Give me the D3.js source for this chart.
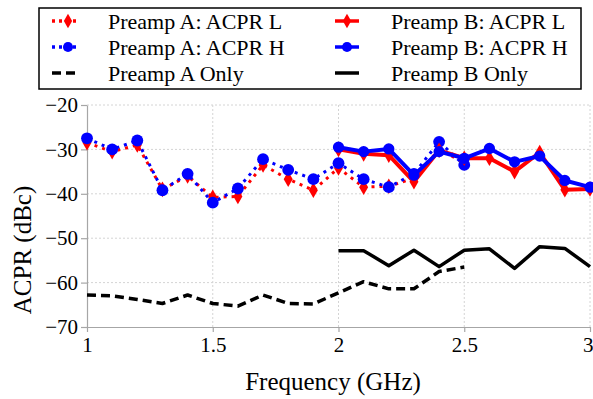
<!DOCTYPE html>
<html>
<head>
<meta charset="utf-8">
<script src="https://cdn.jsdelivr.net/npm/d3@7"></script>
<style>
  body { margin: 0; background: #fff; }
  svg text { font-family: 'Liberation Serif', 'Times New Roman', 'DejaVu Serif', serif; }
</style>
</head>
<body>
<div id="chart"></div>
<script>
const freqA = [1.0, 1.1, 1.2, 1.3, 1.4, 1.5, 1.6, 1.7, 1.8, 1.9, 2.0, 2.1, 2.2, 2.3, 2.4, 2.5];
const freqB = [2.0, 2.1, 2.2, 2.3, 2.4, 2.5, 2.6, 2.7, 2.8, 2.9, 3.0];

const aAcprL = [-28.5, -30.5, -29, -39, -36, -40.8, -40.6, -33.5, -36.7, -39.2, -34.2, -38.5, -38.3, -36.5, -30, -33];
const aAcprH = [-27.5, -30, -28, -39.2, -35.5, -42, -38.8, -32.2, -34.6, -36.7, -33.1, -36.7, -38.5, -35.5, -28.3, -33.5];
const bAcprL = [-30, -31, -31.3, -37.3, -30.2, -32, -32, -35, -30.7, -39.1, -38.9];
const bAcprH = [-29.5, -30.5, -29.9, -35.8, -30.5, -32, -29.8, -32.8, -31.5, -37, -38.5];
const aOnly = [-62.8, -63, -63.8, -64.7, -62.8, -64.7, -65.3, -62.8, -64.7, -64.8, -62.3, -59.8, -61.4, -61.4, -57.5, -56.5];
const bOnly = [-52.8, -52.8, -56.2, -52.7, -56.4, -52.7, -52.4, -56.8, -51.9, -52.3, -56.4];

const xTicks = [1, 1.5, 2, 2.5, 3];
const yTicks = [-70, -60, -50, -40, -30, -20];

const RED = '#ff0000';
const BLUE = '#0000ff';

const width = 593, height = 399;
const svg = d3.select('#chart').append('svg')
  .attr('width', width)
  .attr('height', height);

const x = d3.scaleLinear().domain([1, 3]).range([87, 590]);
const y = d3.scaleLinear().domain([-70, -20]).range([327, 105]);

// grid
svg.append('g')
  .selectAll('line')
  .data(yTicks.filter((d) => d > -70))
  .enter()
  .append('line')
  .attr('x1', x(1)).attr('x2', x(3))
  .attr('y1', (d) => y(d)).attr('y2', (d) => y(d))
  .attr('stroke', '#d4d4d4')
  .attr('stroke-dasharray', '2,2');

svg.append('g')
  .selectAll('line')
  .data(xTicks.filter((d) => d > 1))
  .enter()
  .append('line')
  .attr('x1', (d) => x(d)).attr('x2', (d) => x(d))
  .attr('y1', y(-20)).attr('y2', y(-70))
  .attr('stroke', '#d4d4d4')
  .attr('stroke-dasharray', '2,2');

// axes
const xAxis = svg.append('g')
  .attr('transform', `translate(0,${y(-70)})`)
  .call(d3.axisBottom(x).tickValues(xTicks).tickSize(5).tickSizeOuter(0).tickFormat(d3.format('')));
const yAxis = svg.append('g')
  .attr('transform', `translate(${x(1)},0)`)
  .call(d3.axisLeft(y).tickValues(yTicks).tickSize(6).tickSizeOuter(0));

[xAxis, yAxis].forEach((g) => {
  g.attr('font-family', null);
  g.select('.domain').attr('stroke', '#a6a6a6').attr('stroke-width', 1.2);
  g.selectAll('.tick line').attr('stroke', '#a6a6a6').attr('stroke-width', 1.2);
  g.selectAll('.tick text')
    .attr('fill', '#000')
    .style('font-size', '21px');
});
xAxis.selectAll('.tick text').attr('dy', '0.95em').attr('y', 5);
xAxis.selectAll('.tick text').filter((d) => d === 3).attr('text-anchor', 'end').attr('x', 3);
yAxis.selectAll('.tick text').attr('x', -9);

svg.append('text')
  .attr('x', 333).attr('y', 390)
  .attr('text-anchor', 'middle')
  .style('font-size', '25px')
  .text('Frequency (GHz)');

svg.append('text')
  .attr('transform', 'translate(31,250) rotate(-90)')
  .attr('text-anchor', 'middle')
  .style('font-size', '25px')
  .text('ACPR (dBc)');

// series
const line = (xs) => d3.line().x((d, i) => x(xs[i])).y((d) => y(d));

function drawSeries(xs, vals, opts) {
  svg.append('path')
    .datum(vals)
    .attr('d', line(xs))
    .attr('fill', 'none')
    .attr('stroke', opts.color)
    .attr('stroke-width', opts.width)
    .attr('stroke-dasharray', opts.dash || null)
    .attr('stroke-linejoin', 'round');
  if (opts.marker) {
    svg.append('g')
      .selectAll('path')
      .data(vals)
      .enter()
      .append('path')
      .attr('transform', (d, i) => `translate(${x(xs[i])},${y(d)})`)
      .attr('d', d3.symbol().type(opts.marker).size(opts.size))
      .attr('fill', opts.color);
  }
}

drawSeries(freqA, aOnly, { color: '#000', width: 3.5, dash: '9,5' });
drawSeries(freqB, bOnly, { color: '#000', width: 3.5 });
drawSeries(freqA, aAcprL, { color: RED, width: 3, dash: '3,5', marker: d3.symbolDiamond, size: 70 });
drawSeries(freqA, aAcprH, { color: BLUE, width: 3, dash: '3,5', marker: d3.symbolCircle, size: 110 });
drawSeries(freqB, bAcprL, { color: RED, width: 4, marker: d3.symbolDiamond, size: 70 });
drawSeries(freqB, bAcprH, { color: BLUE, width: 4, marker: d3.symbolCircle, size: 100 });

// legend
const legend = svg.append('g');
legend.append('rect')
  .attr('x', 39).attr('y', 8)
  .attr('width', 542).attr('height', 81)
  .attr('fill', '#fff')
  .attr('stroke', '#000')
  .attr('stroke-width', 1.5);

const legendItems = [
  { label: 'Preamp A: ACPR L', col: 0, row: 0, color: RED, dash: '3,4', marker: d3.symbolDiamond, size: 60 },
  { label: 'Preamp A: ACPR H', col: 0, row: 1, color: BLUE, dash: '3,4', marker: d3.symbolCircle, size: 80 },
  { label: 'Preamp A Only', col: 0, row: 2, color: '#000', dash: '9,5' },
  { label: 'Preamp B: ACPR L', col: 1, row: 0, color: RED, marker: d3.symbolDiamond, size: 60 },
  { label: 'Preamp B: ACPR H', col: 1, row: 1, color: BLUE, marker: d3.symbolCircle, size: 80 },
  { label: 'Preamp B Only', col: 1, row: 2, color: '#000' },
];
const colX = [52, 335];
const rowY = [21, 47, 73];

const item = legend.selectAll('g.item')
  .data(legendItems)
  .enter()
  .append('g')
  .attr('class', 'item')
  .attr('transform', (d) => `translate(${colX[d.col]},${rowY[d.row]})`);

item.append('line')
  .attr('x1', 0).attr('x2', 24)
  .attr('stroke', (d) => d.color)
  .attr('stroke-width', 3.5)
  .attr('stroke-dasharray', (d) => d.dash || null);

item.filter((d) => d.marker)
  .append('path')
  .attr('transform', (d) => `translate(${d.col === 0 ? 16 : 12},0)`)
  .attr('d', (d) => d3.symbol().type(d.marker).size(d.size)())
  .attr('fill', (d) => d.color);

item.append('text')
  .attr('x', 56)
  .attr('dy', '0.35em')
  .style('font-size', '22px')
  .text((d) => d.label);
</script>
</body>
</html>
